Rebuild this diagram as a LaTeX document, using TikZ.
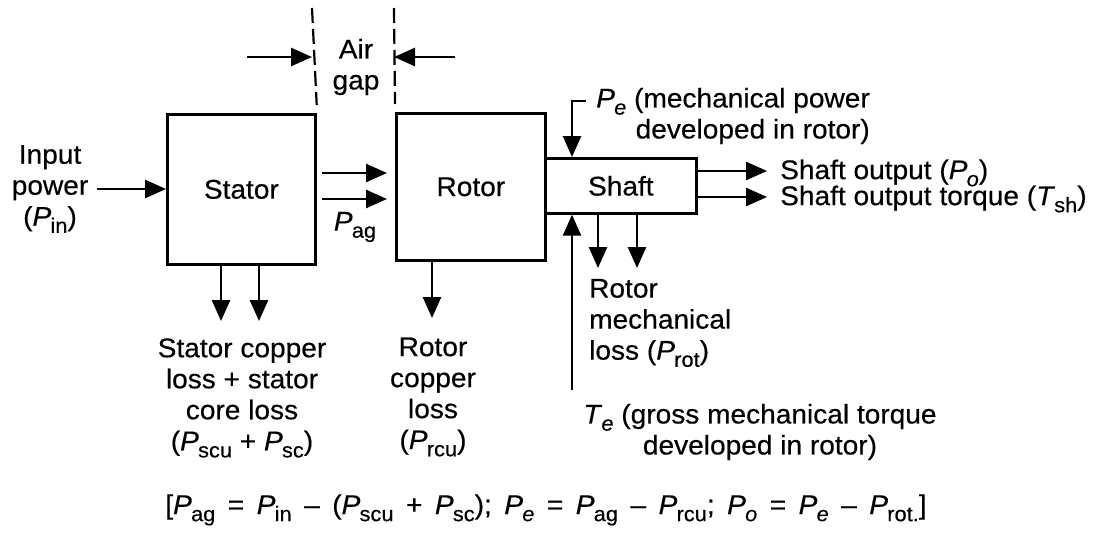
\documentclass[tikz,border=0pt]{standalone}
\usepackage{fontspec}
\setmainfont{Liberation Sans}[FakeStretch=1.04,FakeBold=0.4]
\usetikzlibrary{arrows.meta}
\newcommand\vsub[2]{\textit{#1}\kern-0.03em\raisebox{-0.5ex}{\fontsize{21pt}{21pt}\selectfont #2}}
\newcommand\gsp{\hspace{12.5pt}}
\begin{document}
\begin{tikzpicture}[x=1pt,y=-1pt,
  font=\fontsize{27pt}{31pt}\selectfont,
  blk/.style={draw, line width=2.7pt, inner sep=0pt},
  arr/.style={line width=2.7pt, -{Triangle[length=21pt,width=18pt]}},
  gapline/.style={line width=2.2pt, dash pattern=on 15pt off 6pt},
  lbl/.style={inner sep=0pt, align=center}]
\fill[white] (0,0) rectangle (1096,535);
\useasboundingbox (0,0) rectangle (1096,535);

% blocks
\node[blk, minimum width=148pt, minimum height=150pt, anchor=north west] (stator) at (166,113) {Stator};
\node[blk, minimum width=149pt, minimum height=147pt, anchor=north west] (rotor) at (395,112) {Rotor};
\node[blk, minimum width=151pt, minimum height=55pt, anchor=north west] (shaft) at (544,157) {Shaft};

% air gap
\coordinate (gl) at (312,8);
\coordinate (gr) at (394,8);
\draw[gapline] (gl) -- ([yshift=8pt]stator.north east);
\draw[gapline] (gr) -- ([yshift=8pt]rotor.north west);
\coordinate (ga) at (247,57);
\coordinate (gb) at (455,57);
\draw[arr] (ga) -- (ga -| gl);
\draw[arr] (gb) -- (gb -| gr);
\node[lbl] (air) at (356,67) {Air\\gap};

% input
\node[lbl] (inp) at (50,189) {Input\\power\\(\vsub{P}{in})};
\coordinate (inA) at (97,189);
\draw[arr] (inA) -- (inA -| stator.west);

% air gap power
\coordinate (pa1) at (322,173);
\coordinate (pa2) at (322,199);
\draw[arr] (pa1) -- ([xshift=-8pt]pa1 -| rotor.west);
\draw[arr] (pa2) -- ([xshift=-8pt]pa2 -| rotor.west);
\node[inner sep=0pt] (pag) at (355,227) {\vsub{P}{ag}};

% stator losses
\coordinate (s1) at (221,321);
\coordinate (s2) at (259,321);
\draw[arr] (s1 |- stator.south) -- (s1);
\draw[arr] (s2 |- stator.south) -- (s2);
\node[lbl] (sloss) at (242,398) {Stator copper\\loss + stator\\core loss\\(\vsub{P}{scu} + \vsub{P}{sc})};

% rotor losses
\coordinate (r1) at (432,318);
\draw[arr] (r1 |- rotor.south) -- (r1);
\node[lbl] (rloss) at (433,397) {Rotor\\copper\\loss\\(\vsub{P}{rcu})};

% shaft mechanical losses
\coordinate (m1) at (598,268);
\coordinate (m2) at (637,268);
\draw[arr] (m1 |- shaft.south) -- (m1);
\draw[arr] (m2 |- shaft.south) -- (m2);
\node[lbl, align=left, anchor=west] (mloss) at (589,323) {Rotor\\mechanical\\loss (\vsub{P}{rot})};

% Pe
\coordinate (pe0) at (586,101);
\coordinate (pe1) at (572,101);
\draw[arr] (pe0) -- (pe1) -- (pe1 |- shaft.north);
\node[lbl, align=right, anchor=east] (pel) at (870,116) {\vsub{P}{\textit{e}} (mechanical power\\developed in rotor)};

% Te
\coordinate (te0) at (572,390);
\draw[arr] (te0) -- (te0 |- shaft.south);
\node[lbl] (tel) at (760,432) {\vsub{T}{\textit{e}} (gross mechanical torque\\developed in rotor)};

% shaft outputs
\coordinate (so1) at (767,171);
\coordinate (so2) at (767,197);
\draw[arr] (so1 -| shaft.east) -- (so1);
\draw[arr] (so2 -| shaft.east) -- (so2);
\node[lbl, align=left, anchor=west, font=\fontsize{27pt}{26pt}\selectfont,
      execute at begin node={\lineskiplimit=-20pt}] (sol) at (780,186)
  {Shaft output (\vsub{P}{\textit{o}})\\Shaft output torque (\vsub{T}{sh})};

% relations
\node[inner sep=0pt, anchor=base] (eq) at (546,514) {[\vsub{P}{ag}\gsp=\gsp\vsub{P}{in}\gsp–\gsp(\vsub{P}{scu}\gsp+\gsp\vsub{P}{sc});\gsp\vsub{P}{\textit{e}}\gsp=\gsp\vsub{P}{ag}\gsp–\gsp\vsub{P}{rcu};\gsp\vsub{P}{\textit{o}}\gsp=\gsp\vsub{P}{\textit{e}}\gsp–\gsp\vsub{P}{rot.}]};
\end{tikzpicture}
\end{document}
